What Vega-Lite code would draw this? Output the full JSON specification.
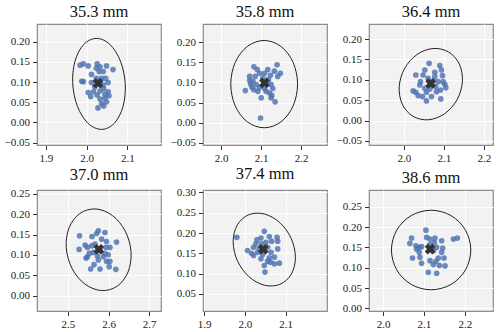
{
  "$schema": "https://vega.github.io/schema/vega-lite/v6.json",
  "padding": {"left": 3, "top": 2, "right": 2, "bottom": 2},
  "background": "white",
  "datasets": {
    "pts": [
      {"p":1,"x":1.984,"y":0.142},{"p":1,"x":1.992,"y":0.145},{"p":1,"x":2.004,"y":0.140},{"p":1,"x":2.026,"y":0.145},{"p":1,"x":2.033,"y":0.138},{"p":1,"x":2.049,"y":0.140},{"p":1,"x":2.065,"y":0.131},{"p":1,"x":2.031,"y":0.126},{"p":1,"x":2.012,"y":0.119},{"p":1,"x":2.041,"y":0.126},{"p":1,"x":1.988,"y":0.102},{"p":1,"x":1.992,"y":0.101},{"p":1,"x":2.012,"y":0.099},{"p":1,"x":2.024,"y":0.109},{"p":1,"x":2.047,"y":0.109},{"p":1,"x":2.053,"y":0.099},{"p":1,"x":2.041,"y":0.093},{"p":1,"x":2.020,"y":0.088},{"p":1,"x":2.004,"y":0.074},{"p":1,"x":2.010,"y":0.064},{"p":1,"x":2.033,"y":0.078},{"p":1,"x":2.042,"y":0.083},{"p":1,"x":2.053,"y":0.076},{"p":1,"x":2.055,"y":0.066},{"p":1,"x":2.045,"y":0.060},{"p":1,"x":2.033,"y":0.058},{"p":1,"x":2.037,"y":0.047},{"p":1,"x":2.028,"y":0.036},{"p":1,"x":2.042,"y":0.041},{"p":1,"x":2.049,"y":0.051},{"p":1,"x":2.033,"y":0.101},{"p":1,"x":2.017,"y":0.076},{"p":1,"x":2.024,"y":0.134},{"p":1,"x":2.045,"y":0.069},{"p":1,"x":2.037,"y":0.109},{"p":1,"x":2.026,"y":0.068},
      {"p":2,"x":2.0818,"y":0.139},{"p":2,"x":2.0901,"y":0.132},{"p":2,"x":2.0711,"y":0.115},{"p":2,"x":2.0711,"y":0.105},{"p":2,"x":2.0603,"y":0.080},{"p":2,"x":2.0769,"y":0.088},{"p":2,"x":2.0876,"y":0.095},{"p":2,"x":2.0959,"y":0.123},{"p":2,"x":2.1083,"y":0.123},{"p":2,"x":2.1231,"y":0.118},{"p":2,"x":2.1331,"y":0.128},{"p":2,"x":2.1397,"y":0.144},{"p":2,"x":2.1479,"y":0.123},{"p":2,"x":2.1182,"y":0.107},{"p":2,"x":2.1289,"y":0.085},{"p":2,"x":2.1207,"y":0.074},{"p":2,"x":2.1248,"y":0.062},{"p":2,"x":2.1347,"y":0.052},{"p":2,"x":2.1124,"y":0.078},{"p":2,"x":2.1,"y":0.062},{"p":2,"x":2.0917,"y":0.078},{"p":2,"x":2.0793,"y":0.103},{"p":2,"x":2.0983,"y":0.012},{"p":2,"x":2.1149,"y":0.096},{"p":2,"x":2.0851,"y":0.115},{"p":2,"x":2.1041,"y":0.111},{"p":2,"x":2.1248,"y":0.095},{"p":2,"x":2.1083,"y":0.085},{"p":2,"x":2.0818,"y":0.082},{"p":2,"x":2.1165,"y":0.132},{"p":2,"x":2.0959,"y":0.088},{"p":2,"x":2.1414,"y":0.115},{"p":2,"x":2.0735,"y":0.096},{"p":2,"x":2.1264,"y":0.068},
      {"p":3,"x":2.0633,"y":0.1404},{"p":3,"x":2.0525,"y":0.1241},{"p":3,"x":2.03,"y":0.1118},{"p":3,"x":2.0483,"y":0.1118},{"p":3,"x":2.0775,"y":0.1184},{"p":3,"x":2.09,"y":0.1347},{"p":3,"x":2.0942,"y":0.1241},{"p":3,"x":2.0967,"y":0.1102},{"p":3,"x":2.0983,"y":0.0955},{"p":3,"x":2.105,"y":0.0808},{"p":3,"x":2.0917,"y":0.0751},{"p":3,"x":2.0817,"y":0.071},{"p":3,"x":2.0925,"y":0.0531},{"p":3,"x":2.0692,"y":0.0588},{"p":3,"x":2.0567,"y":0.0482},{"p":3,"x":2.0467,"y":0.0588},{"p":3,"x":2.03,"y":0.0694},{"p":3,"x":2.0358,"y":0.0612},{"p":3,"x":2.04,"y":0.0873},{"p":3,"x":2.0525,"y":0.0792},{"p":3,"x":2.065,"y":0.0776},{"p":3,"x":2.08,"y":0.0833},{"p":3,"x":2.0858,"y":0.0955},{"p":3,"x":2.0417,"y":0.0955},{"p":3,"x":2.0608,"y":0.1037},{"p":3,"x":2.0733,"y":0.0971},{"p":3,"x":2.0233,"y":0.0727},{"p":3,"x":2.0775,"y":0.1078},{"p":3,"x":2.0567,"y":0.0694},{"p":3,"x":2.1025,"y":0.089},
      {"p":4,"x":2.5285,"y":0.1469},{"p":4,"x":2.5276,"y":0.1136},{"p":4,"x":2.5423,"y":0.1242},{"p":4,"x":2.548,"y":0.1185},{"p":4,"x":2.548,"y":0.0958},{"p":4,"x":2.5447,"y":0.0925},{"p":4,"x":2.5593,"y":0.1453},{"p":4,"x":2.5707,"y":0.1526},{"p":4,"x":2.5748,"y":0.1591},{"p":4,"x":2.5911,"y":0.155},{"p":4,"x":2.5829,"y":0.1388},{"p":4,"x":2.5951,"y":0.1331},{"p":4,"x":2.6195,"y":0.1315},{"p":4,"x":2.5935,"y":0.1185},{"p":4,"x":2.6033,"y":0.1185},{"p":4,"x":2.5992,"y":0.1006},{"p":4,"x":2.587,"y":0.0958},{"p":4,"x":2.5951,"y":0.0844},{"p":4,"x":2.5748,"y":0.0877},{"p":4,"x":2.5642,"y":0.0763},{"p":4,"x":2.5561,"y":0.0657},{"p":4,"x":2.5789,"y":0.0657},{"p":4,"x":2.6016,"y":0.0714},{"p":4,"x":2.6179,"y":0.0649},{"p":4,"x":2.5626,"y":0.1063},{"p":4,"x":2.5667,"y":0.1266},{"p":4,"x":2.5585,"y":0.1226},{"p":4,"x":2.5789,"y":0.1104},{"p":4,"x":2.5724,"y":0.0982},{"p":4,"x":2.5911,"y":0.1039},{"p":4,"x":2.6033,"y":0.0844},{"p":4,"x":2.5528,"y":0.1039},
      {"p":5,"x":1.9803,"y":0.1895},{"p":5,"x":2.0066,"y":0.1569},{"p":5,"x":2.0213,"y":0.1446},{"p":5,"x":2.0213,"y":0.165},{"p":5,"x":2.0295,"y":0.183},{"p":5,"x":2.027,"y":0.1732},{"p":5,"x":2.0393,"y":0.1879},{"p":5,"x":2.0475,"y":0.2042},{"p":5,"x":2.0598,"y":0.1912},{"p":5,"x":2.0656,"y":0.1797},{"p":5,"x":2.0787,"y":0.1895},{"p":5,"x":2.0803,"y":0.1797},{"p":5,"x":2.0803,"y":0.1609},{"p":5,"x":2.0721,"y":0.1405},{"p":5,"x":2.0721,"y":0.1242},{"p":5,"x":2.0844,"y":0.1258},{"p":5,"x":2.0598,"y":0.1389},{"p":5,"x":2.0475,"y":0.1201},{"p":5,"x":2.0492,"y":0.1038},{"p":5,"x":2.0393,"y":0.1364},{"p":5,"x":2.0352,"y":0.1609},{"p":5,"x":2.0557,"y":0.165},{"p":5,"x":2.0639,"y":0.1528},{"p":5,"x":2.0434,"y":0.1471},{"p":5,"x":2.0557,"y":0.1307},{"p":5,"x":2.0311,"y":0.1528},{"p":5,"x":2.041,"y":0.1732},{"p":5,"x":2.0623,"y":0.1283},{"p":5,"x":2.0164,"y":0.1503},{"p":5,"x":2.0516,"y":0.1773},
      {"p":6,"x":2.1049,"y":0.1928},{"p":6,"x":2.0697,"y":0.1732},{"p":6,"x":2.0656,"y":0.1601},{"p":6,"x":2.0803,"y":0.1544},{"p":6,"x":2.0885,"y":0.1503},{"p":6,"x":2.082,"y":0.1462},{"p":6,"x":2.0943,"y":0.152},{"p":6,"x":2.1066,"y":0.1748},{"p":6,"x":2.1148,"y":0.1708},{"p":6,"x":2.127,"y":0.1732},{"p":6,"x":2.1254,"y":0.1626},{"p":6,"x":2.1434,"y":0.1667},{"p":6,"x":2.1459,"y":0.1487},{"p":6,"x":2.1434,"y":0.1381},{"p":6,"x":2.1492,"y":0.1242},{"p":6,"x":2.1352,"y":0.1242},{"p":6,"x":2.1295,"y":0.116},{"p":6,"x":2.123,"y":0.1078},{"p":6,"x":2.1377,"y":0.1054},{"p":6,"x":2.1516,"y":0.1046},{"p":6,"x":2.1148,"y":0.1176},{"p":6,"x":2.0943,"y":0.1111},{"p":6,"x":2.0721,"y":0.1242},{"p":6,"x":2.0902,"y":0.1258},{"p":6,"x":2.0885,"y":0.1381},{"p":6,"x":2.1107,"y":0.0891},{"p":6,"x":2.1311,"y":0.0866},{"p":6,"x":2.1721,"y":0.1708},{"p":6,"x":2.182,"y":0.1732},{"p":6,"x":2.123,"y":0.1422},{"p":6,"x":2.1148,"y":0.1569},{"p":6,"x":2.1311,"y":0.1503}
    ],
    "ell": [
      {"p":1,"i":0,"x":2.0951,"y":0.0955},{"p":1,"i":1,"x":2.0833,"y":0.1519},{"p":1,"i":2,"x":2.0575,"y":0.1932},{"p":1,"i":3,"x":2.0244,"y":0.2083},{"p":1,"i":4,"x":1.9929,"y":0.1932},{"p":1,"i":5,"x":1.9715,"y":0.1519},{"p":1,"i":6,"x":1.9659,"y":0.0955},{"p":1,"i":7,"x":1.9777,"y":0.0391},{"p":1,"i":8,"x":2.0035,"y":-0.0022},{"p":1,"i":9,"x":2.0366,"y":-0.0173},{"p":1,"i":10,"x":2.0681,"y":-0.0022},{"p":1,"i":11,"x":2.0895,"y":0.0391},
      {"p":2,"i":0,"x":2.1909,"y":0.0959},{"p":2,"i":1,"x":2.1797,"y":0.15},{"p":2,"i":2,"x":2.1492,"y":0.1896},{"p":2,"i":3,"x":2.1074,"y":0.2041},{"p":2,"i":4,"x":2.0656,"y":0.1896},{"p":2,"i":5,"x":2.0351,"y":0.15},{"p":2,"i":6,"x":2.0239,"y":0.0959},{"p":2,"i":7,"x":2.0351,"y":0.0418},{"p":2,"i":8,"x":2.0656,"y":0.0022},{"p":2,"i":9,"x":2.1074,"y":-0.0123},{"p":2,"i":10,"x":2.1492,"y":0.0022},{"p":2,"i":11,"x":2.1797,"y":0.0418},
      {"p":3,"i":0,"x":2.1465,"y":0.0954},{"p":3,"i":1,"x":2.1389,"y":0.1384},{"p":3,"i":2,"x":2.1122,"y":0.1682},{"p":3,"i":3,"x":2.0735,"y":0.1769},{"p":3,"i":4,"x":2.0332,"y":0.1622},{"p":3,"i":5,"x":2.0021,"y":0.128},{"p":3,"i":6,"x":1.9885,"y":0.0834},{"p":3,"i":7,"x":1.9961,"y":0.0404},{"p":3,"i":8,"x":2.0228,"y":0.0106},{"p":3,"i":9,"x":2.0615,"y":0.0019},{"p":3,"i":10,"x":2.1018,"y":0.0166},{"p":3,"i":11,"x":2.1329,"y":0.0508},
      {"p":4,"i":0,"x":2.6553,"y":0.1078},{"p":4,"i":1,"x":2.6411,"y":0.1584},{"p":4,"i":2,"x":2.6094,"y":0.1967},{"p":4,"i":3,"x":2.5686,"y":0.2126},{"p":4,"i":4,"x":2.5296,"y":0.2017},{"p":4,"i":5,"x":2.5031,"y":0.167},{"p":4,"i":6,"x":2.4959,"y":0.1178},{"p":4,"i":7,"x":2.5101,"y":0.0672},{"p":4,"i":8,"x":2.5418,"y":0.0289},{"p":4,"i":9,"x":2.5826,"y":0.013},{"p":4,"i":10,"x":2.6216,"y":0.0239},{"p":4,"i":11,"x":2.6481,"y":0.0586},
      {"p":5,"i":0,"x":2.1237,"y":0.1399},{"p":5,"i":1,"x":2.1135,"y":0.1864},{"p":5,"i":2,"x":2.0856,"y":0.2256},{"p":5,"i":3,"x":2.0475,"y":0.247},{"p":5,"i":4,"x":2.0094,"y":0.245},{"p":5,"i":5,"x":1.9815,"y":0.22},{"p":5,"i":6,"x":1.9713,"y":0.1787},{"p":5,"i":7,"x":1.9815,"y":0.1322},{"p":5,"i":8,"x":2.0094,"y":0.093},{"p":5,"i":9,"x":2.0475,"y":0.0716},{"p":5,"i":10,"x":2.0856,"y":0.0736},{"p":5,"i":11,"x":2.1135,"y":0.0986},
      {"p":6,"i":0,"x":2.2147,"y":0.1438},{"p":6,"i":1,"x":2.2017,"y":0.1928},{"p":6,"i":2,"x":2.1662,"y":0.2287},{"p":6,"i":3,"x":2.1176,"y":0.2418},{"p":6,"i":4,"x":2.069,"y":0.2287},{"p":6,"i":5,"x":2.0335,"y":0.1928},{"p":6,"i":6,"x":2.0205,"y":0.1438},{"p":6,"i":7,"x":2.0335,"y":0.0948},{"p":6,"i":8,"x":2.069,"y":0.0589},{"p":6,"i":9,"x":2.1176,"y":0.0458},{"p":6,"i":10,"x":2.1662,"y":0.0589},{"p":6,"i":11,"x":2.2017,"y":0.0948}
    ],
    "ctr": [
      {"p":1,"x":2.028,"y":0.097},{"p":2,"x":2.108,"y":0.099},{"p":3,"x":2.067,"y":0.091},{"p":4,"x":2.576,"y":0.114},{"p":5,"x":2.045,"y":0.160},{"p":6,"x":2.115,"y":0.146}
    ]
  },
  "bounds": "flush",
  "columns": 3,
  "spacing": {"row": 45, "column": 42},
  "concat": [
    {
      "title": "35.3 mm", "width": 124, "height": 121,
      "encoding": {
        "x": {"field": "x", "type": "quantitative", "title": null, "scale": {"domain": [1.878, 2.183], "nice": false, "zero": false}, "axis": {"values": [1.9, 2.0, 2.1], "format": ".1f"}},
        "y": {"field": "y", "type": "quantitative", "title": null, "scale": {"domain": [-0.056, 0.244], "nice": false, "zero": false}, "axis": {"values": [-0.05, 0, 0.05, 0.1, 0.15, 0.2], "format": ".2f"}}
      },
      "layer": [
        {"data": {"name": "pts"}, "transform": [{"filter": "datum.p == 1"}], "mark": "circle"},
        {"data": {"name": "ell"}, "transform": [{"filter": "datum.p == 1"}], "mark": "line", "encoding": {"order": {"field": "i", "type": "quantitative"}}},
        {"data": {"name": "ctr"}, "transform": [{"filter": "datum.p == 1"}], "mark": "point"}
      ]
    },
    {
      "title": "35.8 mm", "width": 124, "height": 121,
      "encoding": {
        "x": {"field": "x", "type": "quantitative", "title": null, "scale": {"domain": [1.9545, 2.2645], "nice": false, "zero": false}, "axis": {"values": [2.0, 2.1, 2.2], "format": ".1f"}},
        "y": {"field": "y", "type": "quantitative", "title": null, "scale": {"domain": [-0.055, 0.245], "nice": false, "zero": false}, "axis": {"values": [-0.05, 0, 0.05, 0.1, 0.15, 0.2], "format": ".2f"}}
      },
      "layer": [
        {"data": {"name": "pts"}, "transform": [{"filter": "datum.p == 2"}], "mark": "circle"},
        {"data": {"name": "ell"}, "transform": [{"filter": "datum.p == 2"}], "mark": "line", "encoding": {"order": {"field": "i", "type": "quantitative"}}},
        {"data": {"name": "ctr"}, "transform": [{"filter": "datum.p == 2"}], "mark": "point"}
      ]
    },
    {
      "title": "36.4 mm", "width": 124, "height": 121,
      "encoding": {
        "x": {"field": "x", "type": "quantitative", "title": null, "scale": {"domain": [1.913, 2.223], "nice": false, "zero": false}, "axis": {"values": [2.0, 2.1, 2.2], "format": ".1f"}},
        "y": {"field": "y", "type": "quantitative", "title": null, "scale": {"domain": [-0.06, 0.237], "nice": false, "zero": false}, "axis": {"values": [-0.05, 0, 0.05, 0.1, 0.15, 0.2], "format": ".2f"}}
      },
      "layer": [
        {"data": {"name": "pts"}, "transform": [{"filter": "datum.p == 3"}], "mark": "circle"},
        {"data": {"name": "ell"}, "transform": [{"filter": "datum.p == 3"}], "mark": "line", "encoding": {"order": {"field": "i", "type": "quantitative"}}},
        {"data": {"name": "ctr"}, "transform": [{"filter": "datum.p == 3"}], "mark": "point"}
      ]
    },
    {
      "title": "37.0 mm", "width": 124, "height": 121,
      "encoding": {
        "x": {"field": "x", "type": "quantitative", "title": null, "scale": {"domain": [2.424, 2.729], "nice": false, "zero": false}, "axis": {"values": [2.5, 2.6, 2.7], "format": ".1f"}},
        "y": {"field": "y", "type": "quantitative", "title": null, "scale": {"domain": [-0.037, 0.259], "nice": false, "zero": false}, "axis": {"values": [0, 0.05, 0.1, 0.15, 0.2, 0.25], "format": ".2f"}}
      },
      "layer": [
        {"data": {"name": "pts"}, "transform": [{"filter": "datum.p == 4"}], "mark": "circle"},
        {"data": {"name": "ell"}, "transform": [{"filter": "datum.p == 4"}], "mark": "line", "encoding": {"order": {"field": "i", "type": "quantitative"}}},
        {"data": {"name": "ctr"}, "transform": [{"filter": "datum.p == 4"}], "mark": "point"}
      ]
    },
    {
      "title": "37.4 mm", "width": 124, "height": 121,
      "encoding": {
        "x": {"field": "x", "type": "quantitative", "title": null, "scale": {"domain": [1.8975, 2.201], "nice": false, "zero": false}, "axis": {"values": [1.9, 2.0, 2.1], "format": ".1f"}},
        "y": {"field": "y", "type": "quantitative", "title": null, "scale": {"domain": [0.008, 0.306], "nice": false, "zero": false}, "axis": {"values": [0.05, 0.1, 0.15, 0.2, 0.25, 0.3], "format": ".2f"}}
      },
      "layer": [
        {"data": {"name": "pts"}, "transform": [{"filter": "datum.p == 5"}], "mark": "circle"},
        {"data": {"name": "ell"}, "transform": [{"filter": "datum.p == 5"}], "mark": "line", "encoding": {"order": {"field": "i", "type": "quantitative"}}},
        {"data": {"name": "ctr"}, "transform": [{"filter": "datum.p == 5"}], "mark": "point"}
      ]
    },
    {
      "title": "38.6 mm", "width": 124, "height": 121,
      "encoding": {
        "x": {"field": "x", "type": "quantitative", "title": null, "scale": {"domain": [1.9656, 2.269], "nice": false, "zero": false}, "axis": {"values": [2.0, 2.1, 2.2], "format": ".1f"}},
        "y": {"field": "y", "type": "quantitative", "title": null, "scale": {"domain": [-0.0065, 0.2917], "nice": false, "zero": false}, "axis": {"values": [0, 0.05, 0.1, 0.15, 0.2, 0.25], "format": ".2f"}}
      },
      "layer": [
        {"data": {"name": "pts"}, "transform": [{"filter": "datum.p == 6"}], "mark": "circle"},
        {"data": {"name": "ell"}, "transform": [{"filter": "datum.p == 6"}], "mark": "line", "encoding": {"order": {"field": "i", "type": "quantitative"}}},
        {"data": {"name": "ctr"}, "transform": [{"filter": "datum.p == 6"}], "mark": "point"}
      ]
    }
  ],
  "config": {
    "font": "Liberation Serif",
    "view": {"fill": "#f2f2f2", "stroke": "#8c8c8c", "strokeWidth": 1.2},
    "title": {"font": "Liberation Serif", "fontSize": 16.5, "fontWeight": "normal", "color": "#111111", "offset": 4},
    "axis": {"grid": true, "gridColor": "#ffffff", "gridWidth": 1, "gridOpacity": 1, "domain": false, "ticks": true, "tickColor": "#333333", "tickSize": 4.5, "tickWidth": 1, "labelFont": "Liberation Serif", "labelFontSize": 11, "labelColor": "#222222", "labelPadding": 3},
    "circle": {"color": "#4c72b0", "size": 32, "opacity": 0.82},
    "line": {"color": "#222222", "strokeWidth": 1, "interpolate": "cardinal-closed"},
    "point": {"shape": "cross", "angle": 45, "size": 115, "filled": true, "color": "#333333", "opacity": 1}
  }
}
